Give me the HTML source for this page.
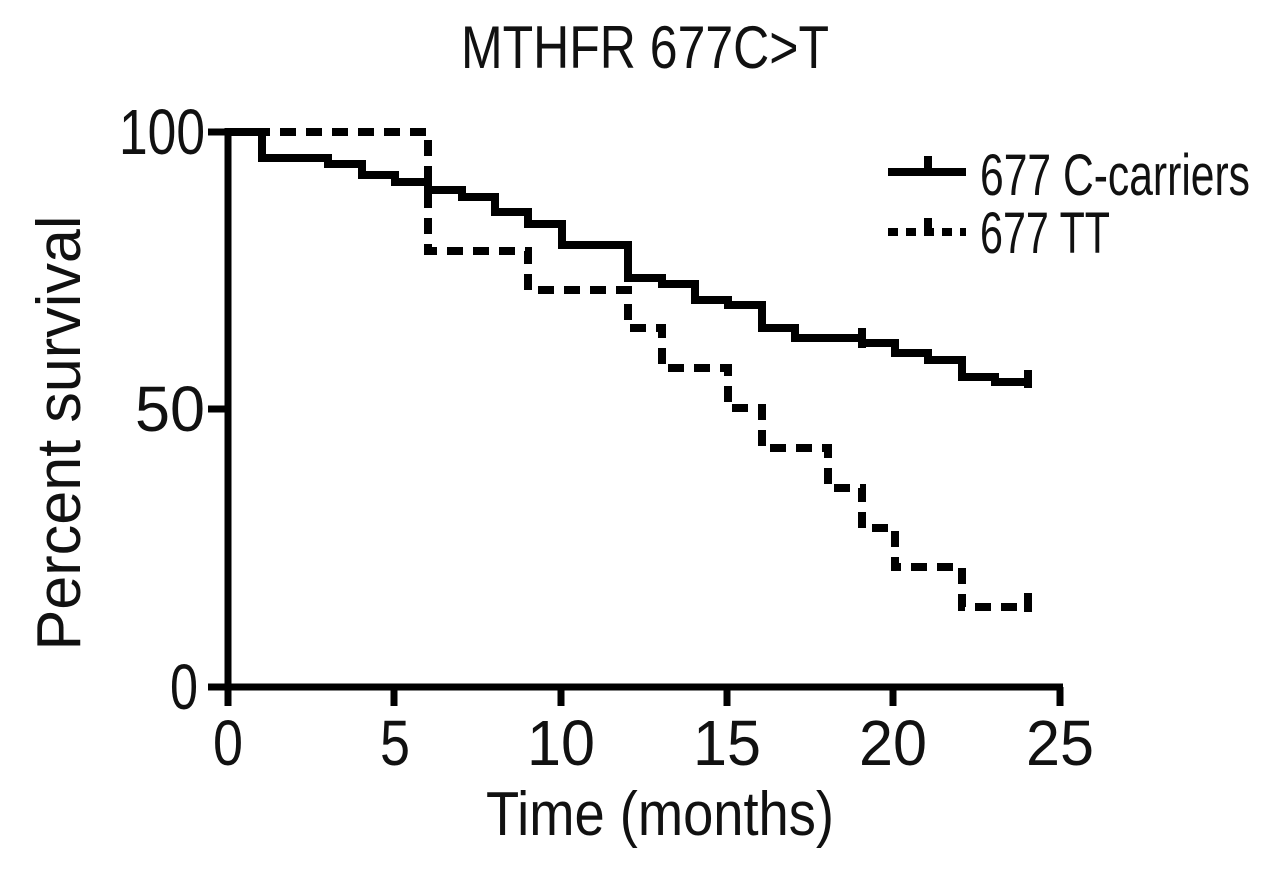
<!DOCTYPE html>
<html><head><meta charset="utf-8"><style>html,body{margin:0;padding:0;background:#fff;}svg{display:block}text{font-family:"Liberation Sans Narrow","Liberation Sans",sans-serif;fill:#111}</style></head>
<body>
<svg width="1280" height="875" viewBox="0 0 1280 875" xmlns="http://www.w3.org/2000/svg">
<text x="645" y="68" font-size="60" text-anchor="middle" textLength="368" lengthAdjust="spacingAndGlyphs">MTHFR 677C&gt;T</text>
<g stroke="#000" stroke-width="7" fill="none">
<line x1="228" y1="128" x2="228" y2="690"/>
<line x1="224" y1="687" x2="1063" y2="687"/>
<line x1="208" y1="132" x2="228" y2="132"/>
<line x1="208" y1="409" x2="228" y2="409"/>
<line x1="208" y1="687" x2="228" y2="687"/>
<line x1="228" y1="687" x2="228" y2="706"/>
<line x1="394" y1="687" x2="394" y2="706"/>
<line x1="561" y1="687" x2="561" y2="706"/>
<line x1="727" y1="687" x2="727" y2="706"/>
<line x1="893" y1="687" x2="893" y2="706"/>
<line x1="1060" y1="687" x2="1060" y2="706"/>
</g>
<g font-size="64" text-anchor="end">
<text x="205" y="154" textLength="86" lengthAdjust="spacingAndGlyphs">100</text>
<text x="205" y="431" textLength="70" lengthAdjust="spacingAndGlyphs">50</text>
<text x="198" y="709" textLength="28" lengthAdjust="spacingAndGlyphs">0</text>
</g>
<g font-size="64" text-anchor="middle">
<text x="228" y="765" textLength="30" lengthAdjust="spacingAndGlyphs">0</text>
<text x="395" y="765" textLength="30" lengthAdjust="spacingAndGlyphs">5</text>
<text x="561" y="765" textLength="68" lengthAdjust="spacingAndGlyphs">10</text>
<text x="727" y="765" textLength="68" lengthAdjust="spacingAndGlyphs">15</text>
<text x="893" y="765" textLength="68" lengthAdjust="spacingAndGlyphs">20</text>
<text x="1060" y="765" textLength="68" lengthAdjust="spacingAndGlyphs">25</text>
</g>
<text x="660" y="835" font-size="62" text-anchor="middle" textLength="348" lengthAdjust="spacingAndGlyphs">Time (months)</text>
<text transform="translate(80,433) rotate(-90)" font-size="62" text-anchor="middle" textLength="435" lengthAdjust="spacingAndGlyphs">Percent survival</text>
<g stroke="#000" stroke-width="8" fill="none" stroke-linejoin="miter">
<polyline points="228,132 262,132 262,158 328,158 328,164 362,164 362,175 395,175 395,182 428,182 428,190 462,190 462,197 495,197 495,212 528,212 528,224 562,224 562,245 628,245 628,278 662,278 662,284 695,284 695,300 728,300 728,305 762,305 762,328 795,328 795,338 862,338 862,343 895,343 895,353 928,353 928,360 962,360 962,377 995,377 995,382 1028,382"/>
<line x1="862" y1="328" x2="862" y2="348"/>
<line x1="1028" y1="370" x2="1028" y2="388"/>
<polyline stroke-dasharray="16 10" points="228,132 428,132 428,251 528,251 528,290 628,290 628,328 662,328 662,368 728,368 728,408 762,408 762,448 828,448 828,488 862,488 862,528 895,528 895,567 962,567 962,607 1028,607"/>
<line x1="1028" y1="593" x2="1028" y2="612"/>
<line x1="888" y1="172" x2="966" y2="172"/>
<line x1="928" y1="156" x2="928" y2="176"/>
<line x1="888" y1="232" x2="966" y2="232" stroke-dasharray="10 8"/>
<line x1="928" y1="218" x2="928" y2="236"/>
</g>
<text x="980" y="195" font-size="58" textLength="270" lengthAdjust="spacingAndGlyphs">677 C-carriers</text>
<text x="980" y="253" font-size="58" textLength="130" lengthAdjust="spacingAndGlyphs">677 TT</text>
</svg>
</body></html>
